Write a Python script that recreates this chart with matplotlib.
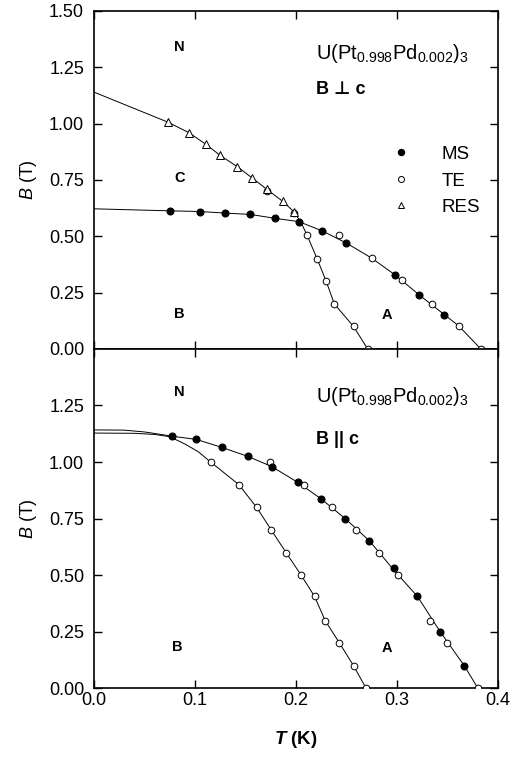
import matplotlib
matplotlib.use('Agg')
import matplotlib.pyplot as plt
from matplotlib.ticker import MultipleLocator, FormatStrFormatter

plt.rcParams['font.family'] = ['Liberation Sans', 'DejaVu Sans']
plt.rcParams['mathtext.fontset'] = 'custom'
plt.rcParams['mathtext.rm'] = 'Liberation Sans'
plt.rcParams['mathtext.it'] = 'Liberation Sans:italic'
plt.rcParams['mathtext.bf'] = 'Liberation Sans:bold'
plt.rcParams['mathtext.bfit'] = 'Liberation Sans:bold:italic'

# ---- B perp c (top panel) ----
top_ms_T = [0.075, 0.105, 0.13, 0.155, 0.179, 0.203, 0.226, 0.25, 0.298, 0.322, 0.347]
top_ms_B = [0.613, 0.61, 0.603, 0.598, 0.58, 0.565, 0.524, 0.47, 0.329, 0.24, 0.152]
top_te_T = [0.171, 0.198, 0.211, 0.221, 0.23, 0.238, 0.257, 0.271,
            0.243, 0.275, 0.305, 0.335, 0.361, 0.383]
top_te_B = [0.70, 0.605, 0.505, 0.40, 0.30, 0.20, 0.10, 0.0,
            0.507, 0.403, 0.304, 0.20, 0.103, 0.0]
top_res_T = [0.073, 0.094, 0.111, 0.125, 0.142, 0.157, 0.171, 0.187, 0.198]
top_res_B = [1.007, 0.96, 0.908, 0.859, 0.809, 0.758, 0.709, 0.655, 0.609]

# guide lines (phase boundaries)
top_line1_T = [0, 0.075, 0.105, 0.13, 0.155, 0.179, 0.203, 0.226, 0.25, 0.275, 0.298, 0.322, 0.347, 0.361, 0.383]
top_line1_B = [0.622, 0.613, 0.61, 0.603, 0.597, 0.58, 0.565, 0.524, 0.47, 0.403, 0.329, 0.24, 0.152, 0.103, 0.0]
top_line2_T = [0, 0.073, 0.094, 0.111, 0.125, 0.142, 0.157, 0.171, 0.187, 0.198, 0.205,
               0.211, 0.221, 0.23, 0.238, 0.257, 0.271]
top_line2_B = [1.14, 1.007, 0.96, 0.908, 0.859, 0.809, 0.758, 0.709, 0.655, 0.609, 0.562,
               0.505, 0.40, 0.30, 0.20, 0.10, 0.0]

# ---- B || c (bottom panel) ----
bot_ms_T = [0.0777, 0.1014, 0.1264, 0.1524, 0.176, 0.2018, 0.2252, 0.2489, 0.2726,
            0.2973, 0.3203, 0.3427, 0.3667]
bot_ms_B = [1.114, 1.10, 1.065, 1.025, 0.98, 0.91, 0.836, 0.749, 0.652,
            0.531, 0.405, 0.25, 0.098]
bot_te_T = [0.1156, 0.1435, 0.161, 0.1755, 0.1906, 0.2054, 0.2185, 0.229, 0.243, 0.257, 0.2693,
            0.174, 0.208, 0.2356, 0.2597, 0.2818, 0.301, 0.3328, 0.350, 0.380]
bot_te_B = [1.0, 0.90, 0.80, 0.70, 0.597, 0.498, 0.405, 0.298, 0.20, 0.099, 0.0,
            1.00, 0.897, 0.801, 0.70, 0.597, 0.498, 0.298, 0.20, 0.0]

bot_line1_T = [0, 0.03, 0.05, 0.065, 0.0777, 0.1014, 0.1264, 0.1524, 0.176, 0.2018, 0.2252,
               0.2489, 0.2726, 0.2973, 0.3203, 0.3427, 0.3667, 0.38]
bot_line1_B = [1.142, 1.141, 1.133, 1.123, 1.114, 1.10, 1.065, 1.025, 0.98, 0.91, 0.836,
               0.749, 0.652, 0.52, 0.405, 0.25, 0.098, 0.0]
bot_line2_T = [0, 0.04, 0.06, 0.075, 0.09, 0.1035, 0.1156, 0.1435, 0.161, 0.1755, 0.1906,
               0.2054, 0.2185, 0.229, 0.243, 0.257, 0.2693]
bot_line2_B = [1.128, 1.127, 1.122, 1.112, 1.08, 1.045, 1.0, 0.90, 0.80, 0.70, 0.597,
               0.498, 0.405, 0.298, 0.20, 0.099, 0.0]

fig = plt.figure(figsize=(5.27, 7.58), dpi=100)
ax1 = fig.add_axes([0.178, 0.5396, 0.767, 0.446])
ax2 = fig.add_axes([0.178, 0.0923, 0.767, 0.4473])

ms_kw = dict(marker='o', color='black', markersize=4.8, linestyle='none', zorder=4)
te_kw = dict(marker='o', markerfacecolor='white', markeredgecolor='black', markeredgewidth=0.7,
             markersize=4.8, linestyle='none', zorder=3)
res_kw = dict(marker='^', markerfacecolor='white', markeredgecolor='black', markeredgewidth=0.7,
              markersize=5.2, linestyle='none', zorder=3)

for ax in (ax1, ax2):
    ax.set_xlim(0, 0.4)
    ax.set_ylim(0, 1.5)
    ax.xaxis.set_major_locator(MultipleLocator(0.1))
    ax.yaxis.set_major_locator(MultipleLocator(0.25))
    ax.yaxis.set_major_formatter(FormatStrFormatter('%.2f'))
    ax.xaxis.set_major_formatter(FormatStrFormatter('%.1f'))
    ax.tick_params(direction='in', top=True, right=True, length=6, width=1, labelsize=13)
    ax.tick_params(axis='y', pad=7)
    ax.tick_params(axis='x', pad=3)
    for s in ax.spines.values():
        s.set_linewidth(1.2)
    ax.set_ylabel(r'$B$ (T)', fontsize=13, labelpad=7)

# top panel
ax1.plot(top_line1_T, top_line1_B, color='black', lw=0.7)
ax1.plot(top_line2_T, top_line2_B, color='black', lw=0.7)
h_ms, = ax1.plot(top_ms_T, top_ms_B, **ms_kw)
h_te, = ax1.plot(top_te_T, top_te_B, **te_kw)
h_res, = ax1.plot(top_res_T, top_res_B, **res_kw)
ax1.tick_params(labelbottom=False)

ax1.text(0.22, 1.31, r'U(Pt$_{0.998}$Pd$_{0.002}$)$_3$', fontsize=14.5, va='center', ha='left')
ax1.text(0.22, 1.15, 'B ⊥ c', fontsize=13, fontweight='bold', va='center', ha='left')
for lbl, x, y in [('N', 0.085, 1.34), ('C', 0.085, 0.757), ('B', 0.085, 0.155), ('A', 0.29, 0.152)]:
    ax1.text(x, y, lbl, fontsize=10.5, fontweight='bold', ha='center', va='center')

leg = ax1.legend([h_ms, h_te, h_res], ['MS', 'TE', 'RES'], loc='center left',
                 bbox_to_anchor=(0.69, 0.497), frameon=False, fontsize=13.5,
                 handlelength=1.2, handletextpad=1.55, labelspacing=0.5, markerscale=0.9)

# bottom panel
ax2.plot(bot_line1_T, bot_line1_B, color='black', lw=0.7)
ax2.plot(bot_line2_T, bot_line2_B, color='black', lw=0.7)
ax2.plot(bot_te_T, bot_te_B, **te_kw)
ax2.plot(bot_ms_T, bot_ms_B, **ms_kw)
ax2.set_yticks([0, 0.25, 0.5, 0.75, 1.0, 1.25])

ax2.text(0.22, 1.29, r'U(Pt$_{0.998}$Pd$_{0.002}$)$_3$', fontsize=14.5, va='center', ha='left')
ax2.text(0.22, 1.10, 'B || c', fontsize=13, fontweight='bold', va='center', ha='left')
for lbl, x, y in [('N', 0.085, 1.31), ('B', 0.083, 0.183), ('A', 0.29, 0.179)]:
    ax2.text(x, y, lbl, fontsize=10.5, fontweight='bold', ha='center', va='center')

ax2.set_xlabel(r'$\mathbfit{T}$ (K)', fontsize=13.5, fontweight='bold', labelpad=14)

fig.savefig('out.png', dpi=100)
